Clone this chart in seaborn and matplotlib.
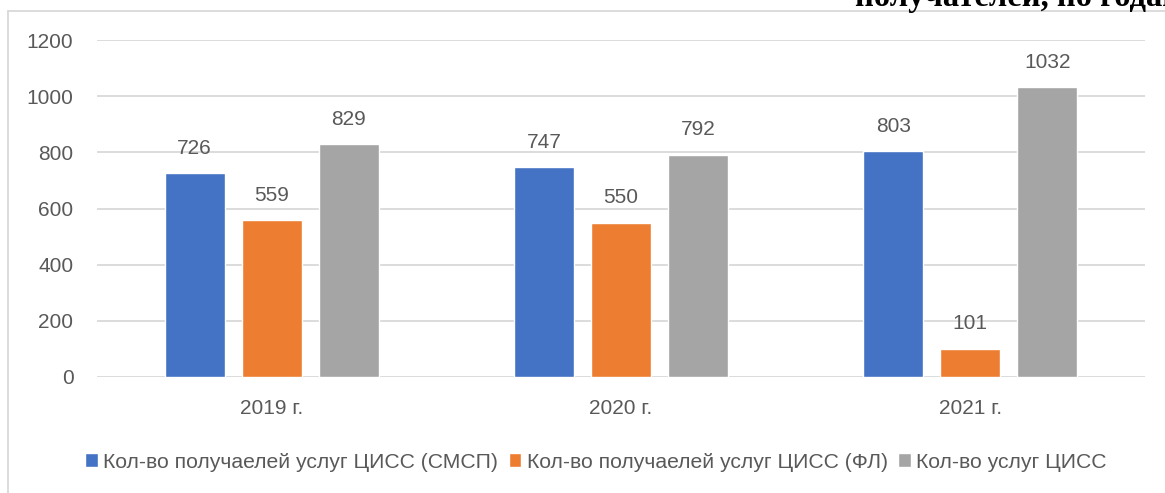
import pandas as pd
import seaborn as sns
import matplotlib.pyplot as plt
from matplotlib.lines import Line2D

# chart data
years = ["2019 г.", "2020 г.", "2021 г."]
series_names = [
    "Кол-во получаелей услуг ЦИСС (СМСП)",
    "Кол-во получаелей услуг ЦИСС (ФЛ)",
    "Кол-во услуг ЦИСС",
]
smsp = [726, 747, 803]
fl = [559, 550, 101]
services = [829, 792, 1032]
colors = ["#4472C4", "#ED7D31", "#A5A5A5"]

df = pd.DataFrame({
    "year": years * 3,
    "series": [series_names[0]] * 3 + [series_names[1]] * 3 + [series_names[2]] * 3,
    "value": smsp + fl + services,
})

sns.set_style("white")
plt.rcParams["font.family"] = ["Liberation Sans", "DejaVu Sans"]
text_col = "#595959"
grid_col = "#D9D9D9"

fig = plt.figure(figsize=(11.65, 4.93), dpi=100)
ax = fig.add_axes([97 / 1165, 1 - 377 / 493, (1145 - 97) / 1165, (377 - 40) / 493])

sns.barplot(data=df, x="year", y="value", hue="series", palette=colors, saturation=1,
            width=0.662, gap=0.22, ax=ax, legend=True)

for c in ax.containers:
    ax.bar_label(c, padding=11, fontsize=15, color=text_col)

ax.set_ylim(0, 1200)
ax.set_yticks(range(0, 1201, 200))
ax.yaxis.grid(True, color=grid_col, linewidth=1.3)
ax.set_axisbelow(True)
for s in ax.spines.values():
    s.set_visible(False)
ax.set_xlabel("")
ax.set_ylabel("")
ax.tick_params(axis="y", length=0, pad=17, labelsize=15, labelcolor=text_col)
ax.tick_params(axis="x", length=0, pad=16, labelsize=15, labelcolor=text_col)

handles, labels = ax.get_legend_handles_labels()
ax.legend_.remove()
fig.legend(handles, labels, loc="center", bbox_to_anchor=(596 / 1165, 1 - 462 / 493),
           ncol=3, frameon=False, fontsize=15.2, handlelength=0.6, handleheight=0.6,
           handletextpad=0.25, columnspacing=0.5, labelcolor=text_col)

# chart border (top and left visible in the screenshot)
fig.add_artist(Line2D([8 / 1165, 8 / 1165], [0, 1 - 11 / 493], color=grid_col, lw=1.3,
                      transform=fig.transFigure))
fig.add_artist(Line2D([8 / 1165, 1], [1 - 11 / 493, 1 - 11 / 493], color=grid_col, lw=1.3,
                      transform=fig.transFigure))

# cut-off heading of the document above the chart
fig.text(855 / 1165, 1 - 6 / 493, "получателей, по годам", fontsize=23.5, fontweight="bold",
         family=["Liberation Serif", "DejaVu Serif"], color="black", ha="left", va="baseline")

fig.savefig("out.png", dpi=100)
